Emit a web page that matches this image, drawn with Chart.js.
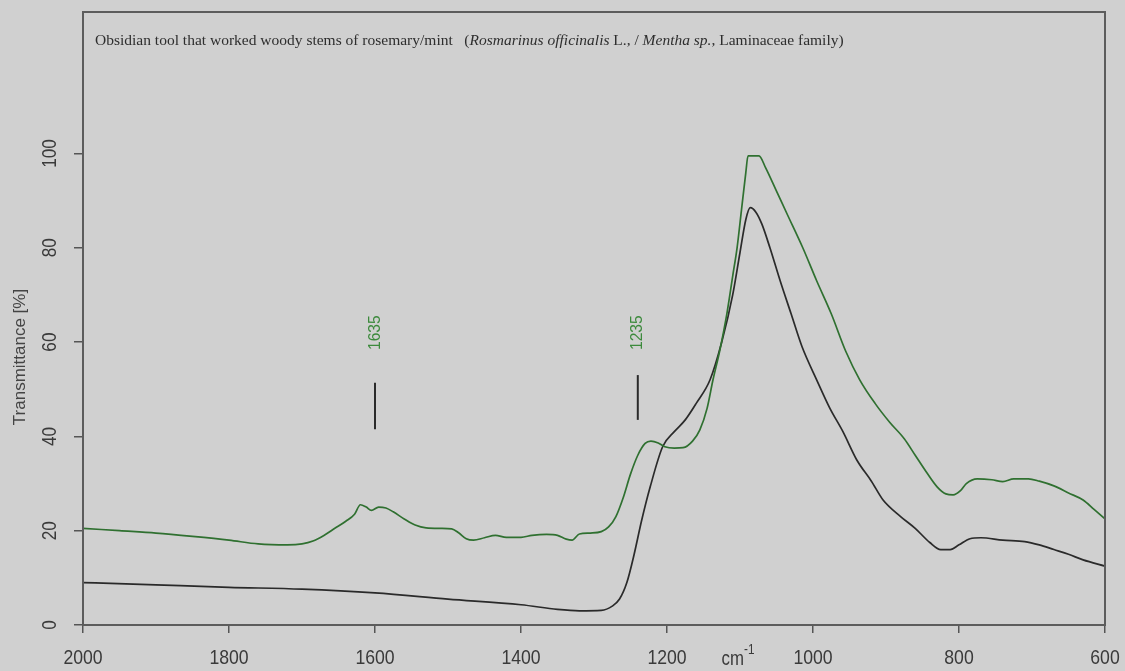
<!DOCTYPE html>
<html>
<head>
<meta charset="utf-8">
<script src="https://cdn.jsdelivr.net/npm/chart.js@4.4.1/dist/chart.umd.min.js"></script>
<style>
  html, body { margin: 0; padding: 0; background: #d0d0d0; }
  #wrap { width: 1125px; height: 671px; position: relative; }
</style>
</head>
<body>
<div id="wrap"><canvas id="c"></canvas></div>
<script>
// ---------- DATA ----------
const xTickValues = [2000, 1800, 1600, 1400, 1200, 1000, 800, 600];
const xTickLabels = ['2000', '1800', '1600', '1400', '1200', '1000', '800', '600'];
const yTickValues = [0, 20, 40, 60, 80, 100];
const yTickLabels = ['0', '20', '40', '60', '80', '100'];

const greenWavenumbers = [2000,1950,1900,1850,1800,1760,1720,1700,1685,1670,1655,1640,1628,1620,1612,1605,1595,1585,1575,1560,1545,1530,1510,1495,1485,1475,1465,1450,1435,1420,1400,1385,1365,1350,1338,1330,1320,1305,1290,1280,1270,1260,1250,1240,1230,1222,1212,1203,1190,1178,1165,1155,1145,1137,1128,1118,1110,1104,1098,1092,1089,1074,1065,1050,1035,1014,995,975,955,936,915,895,875,860,845,830,818,808,798,790,775,755,740,725,705,690,670,650,630,615,600];
const greenTransmittance = [20.5,20,19.5,18.8,18,17.2,17,17.2,17.8,19,20.5,22,23.5,25.5,25,24.3,25,24.8,24,22.5,21.2,20.6,20.5,20.4,19.5,18.3,18,18.5,19,18.6,18.6,19,19.2,19,18.2,18,19.3,19.5,19.8,20.8,23,27,32,36,38.5,39,38.6,37.8,37.5,37.6,39,41.4,46,52,58,66,74,80,88,96,99.5,99.5,97,92,87,80,73,66,58,52,47,43,39.5,36,32.5,29.3,27.8,27.6,28.5,30,31,30.8,30.4,31,31,30.5,29.5,28,26.5,24.5,22.5];

const blackWavenumbers = [2000,1900,1800,1700,1600,1500,1400,1350,1320,1290,1275,1265,1255,1245,1235,1223,1206,1190,1175,1160,1141,1125,1110,1100,1092,1086,1078,1070,1059,1045,1030,1015,995,977,959,940,920,904,880,860,840,825,812,800,785,770,740,710,690,670,650,630,600];
const blackTransmittance = [9,8.5,8,7.6,6.8,5.5,4.3,3.3,3,3.1,4,5.5,9,15,22,29.3,37.8,41,43.5,47,52,60,70,79,86,88.5,87.5,85,80,73,66,59,52,46,41,35,30.5,26.5,23,20.5,17.5,16,16,17,18.3,18.5,18,17.7,17,16,15,13.8,12.5];

const peakPositions = [1600, 1240];
const peakLabels = ['1635', '1235'];
const peakBarLow = [41.5, 43.5];
const peakBarHigh = [51.4, 53];
const peakLabelValue = 62;

const titleSegments = [
  ['Obsidian tool that worked woody stems of rosemary/mint   (', false],
  ['Rosmarinus officinalis', true],
  [' L., / ', false],
  ['Mentha sp.', true],
  [', Laminaceae family)', false]
];
const yAxisTitle = 'Transmittance [%]';
const unitMain = 'cm';
const unitSup = '-1';

// ---------- STYLE ----------
const BG = '#d0d0d0';
const GREEN = '#2f7030';
const BLACK = '#2a2a2a';
const TEXT = '#3a3a3a';
const SANS = '"Liberation Sans", Arial, sans-serif';

const toXY = (xs, ys) => xs.map((x, i) => ({ x: x, y: ys[i] }));

const datasets = [
  { data: toXY(greenWavenumbers, greenTransmittance), borderColor: GREEN, borderWidth: 1.7, pointRadius: 0, cubicInterpolationMode: 'monotone', fill: false },
  { data: toXY(blackWavenumbers, blackTransmittance), borderColor: BLACK, borderWidth: 1.7, pointRadius: 0, cubicInterpolationMode: 'monotone', fill: false }
];
peakPositions.forEach((p, i) => {
  datasets.push({ data: [{ x: p, y: peakBarLow[i] }, { x: p, y: peakBarHigh[i] }], borderColor: BLACK, borderWidth: 2, pointRadius: 0, fill: false });
});

function narrowText(ctx, text, x, y, rot, sx) {
  ctx.save();
  ctx.translate(x, y);
  if (rot) ctx.rotate(rot);
  ctx.scale(sx, 1);
  ctx.fillText(text, 0, 0);
  ctx.restore();
}

const decorPlugin = {
  id: 'decor',
  beforeDraw(chart) {
    const ctx = chart.ctx;
    ctx.save();
    ctx.fillStyle = BG;
    ctx.fillRect(0, 0, chart.width, chart.height);
    ctx.restore();
  },
  afterDraw(chart) {
    const ctx = chart.ctx;
    const a = chart.chartArea;
    const xs = chart.scales.x, ys = chart.scales.y;
    ctx.save();
    // frame
    ctx.strokeStyle = '#5c5c5c';
    ctx.lineWidth = 2;
    ctx.strokeRect(a.left, a.top, a.right - a.left, a.bottom - a.top);

    ctx.fillStyle = TEXT;
    ctx.font = '21px ' + SANS;
    ctx.textAlign = 'center';
    ctx.textBaseline = 'middle';
    // x tick labels
    xTickValues.forEach((v, i) => {
      narrowText(ctx, xTickLabels[i], xs.getPixelForValue(v), a.bottom + 33, 0, 0.84);
    });
    // y tick labels (rotated)
    yTickValues.forEach((v, i) => {
      narrowText(ctx, yTickLabels[i], 50, ys.getPixelForValue(v), -Math.PI / 2, 0.82);
    });

    // y axis title
    ctx.save();
    ctx.font = '17px ' + SANS;
    ctx.fillStyle = '#444';
    ctx.translate(20, 357);
    ctx.rotate(-Math.PI / 2);
    ctx.fillText(yAxisTitle, 0, 0);
    ctx.restore();

    // cm-1 unit
    const ux = (xs.getPixelForValue(1200) + xs.getPixelForValue(1000)) / 2;
    ctx.font = '20px ' + SANS;
    ctx.textAlign = 'right';
    narrowText(ctx, unitMain, ux + 4, a.bottom + 34, 0, 0.84);
    ctx.font = '14px ' + SANS;
    ctx.textAlign = 'left';
    narrowText(ctx, unitSup, ux + 4, a.bottom + 25, 0, 0.84);

    // title
    const tSize = 15.5;
    let tx = 95;
    const ty = 41;
    ctx.textAlign = 'left';
    ctx.textBaseline = 'middle';
    ctx.fillStyle = '#2e2e2e';
    titleSegments.forEach(([s, it]) => {
      ctx.font = (it ? 'italic ' : '') + tSize + 'px "Liberation Serif", "Times New Roman", serif';
      ctx.fillText(s, tx, ty);
      tx += ctx.measureText(s).width;
    });

    // peak labels
    ctx.fillStyle = '#3c8a3c';
    ctx.font = '17px ' + SANS;
    ctx.textAlign = 'center';
    peakPositions.forEach((p, i) => {
      narrowText(ctx, peakLabels[i], xs.getPixelForValue(p), ys.getPixelForValue(peakLabelValue), -Math.PI / 2, 0.92);
    });
    ctx.restore();
  }
};

new Chart(document.getElementById('c'), {
  type: 'line',
  data: { datasets: datasets },
  options: {
    responsive: true,
    maintainAspectRatio: false,
    animation: false,
    layout: { padding: { top: 12, right: 20, left: 0, bottom: 0 } },
    plugins: { legend: { display: false }, tooltip: { enabled: false }, title: { display: false } },
    scales: {
      x: {
        type: 'linear',
        reverse: true,
        min: 600,
        max: 2000,
        afterBuildTicks: (s) => { s.ticks = xTickValues.map(v => ({ value: v })); },
        afterFit: (s) => { s.height = 46; },
        grid: { drawOnChartArea: false, drawTicks: true, tickLength: 8, tickColor: '#555', lineWidth: 1.5 },
        border: { display: false },
        ticks: { display: false }
      },
      y: {
        type: 'linear',
        min: 0,
        max: 130,
        afterBuildTicks: (s) => { s.ticks = yTickValues.map(v => ({ value: v })); },
        afterFit: (s) => { s.width = 83; },
        grid: { drawOnChartArea: false, drawTicks: true, tickLength: 9, tickColor: '#555', lineWidth: 1.5 },
        border: { display: false },
        ticks: { display: false }
      }
    }
  },
  plugins: [decorPlugin]
});
</script>
</body>
</html>
